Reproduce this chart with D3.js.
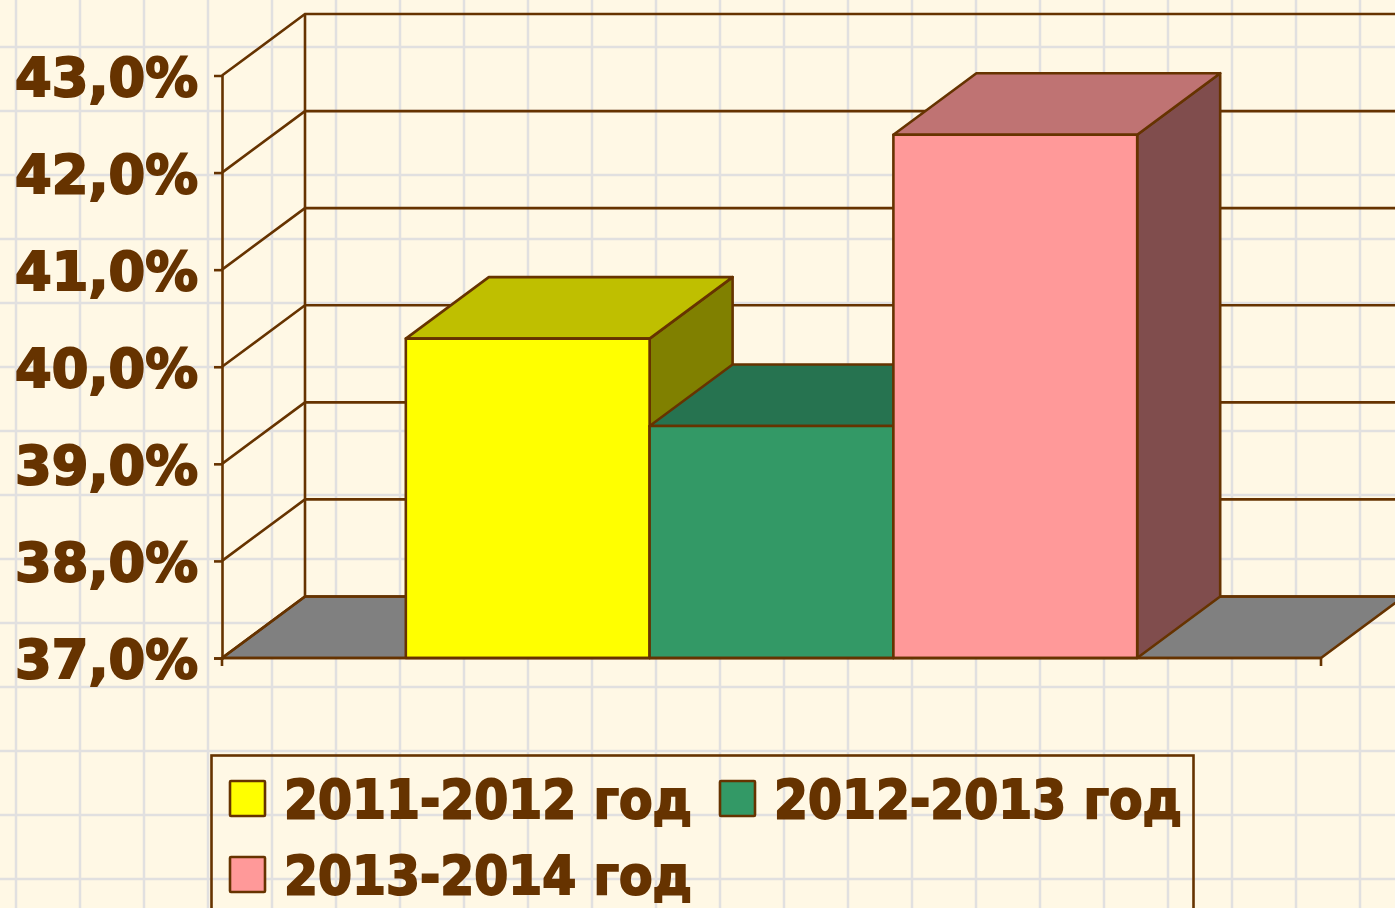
<!DOCTYPE html>
<html><head><meta charset="utf-8">
<script src="https://cdn.jsdelivr.net/npm/d3@7"></script>
<style>html,body{margin:0;padding:0;background:#fff8e5;overflow:hidden}svg{display:block}
text{font-family:"DejaVu Sans",sans-serif;font-weight:700;fill:#663300;stroke:#663300;stroke-width:2px;paint-order:stroke}</style></head>
<body><svg id="c" width="1395" height="908"></svg>
<script>
const seriesNames = ["2011-2012 год", "2012-2013 год", "2013-2014 год"];
const seriesValues = [40.29, 39.39, 42.39];
const frontColors = ["#ffff00", "#339966", "#ff9999"];
const topColors = ["#bfbf00", "#267350", "#bf7373"];
const sideColors = ["#808000", "#1a4d33", "#804d4d"];
const tickValues = [37, 38, 39, 40, 41, 42, 43];

const INK = "#663300", W = 1395, H = 908, SW = 2.6;
const svg = d3.select("#c");
const depth = {x: 83, y: -61.5};
const y = d3.scaleLinear().domain([37, 43]).range([658, 75.5]);
const x = d3.scaleBand().domain(seriesNames).range([222, 1321]).paddingInner(0).paddingOuter(0.754);
const line = d3.line();

// paper grid
const grid = svg.append("g").attr("stroke", "#e1e0e0").attr("stroke-width", 2.5);
grid.selectAll("line.v").data(d3.range(16, W, 64)).join("line").attr("class", "v")
  .attr("x1", d => d).attr("x2", d => d).attr("y1", 0).attr("y2", H);
grid.selectAll("line.h").data(d3.range(47, H, 64)).join("line").attr("class", "h")
  .attr("x1", 0).attr("x2", W).attr("y1", d => d).attr("y2", d => d);

// walls and floor
const x0 = x.range()[0], x1 = x.range()[1];
const walls = svg.append("g").attr("fill", "none").attr("stroke", INK).attr("stroke-width", SW);
walls.append("path").attr("fill", "#808080")
  .attr("d", line([[x0, y(37)], [x0 + depth.x, y(37) + depth.y], [x1 + depth.x, y(37) + depth.y], [x1, y(37)]]) + "Z");
walls.selectAll("path.g").data(tickValues).join("path").attr("class", "g")
  .attr("d", d => line([[x0, y(d)], [x0 + depth.x, y(d) + depth.y], [W + 10, y(d) + depth.y]]));
walls.append("path").attr("d", line([[x0 + depth.x, y(43) + depth.y], [x0 + depth.x, y(37) + depth.y]]));

// bars, painted left to right
const bars = svg.append("g").attr("stroke", INK).attr("stroke-width", SW).attr("stroke-linejoin", "round");
seriesNames.forEach((n, i) => {
  const l = x(n), r = l + x.bandwidth(), t = y(seriesValues[i]), b = y(37);
  const g = bars.append("g");
  g.append("path").attr("fill", sideColors[i])
    .attr("d", line([[r, t], [r + depth.x, t + depth.y], [r + depth.x, b + depth.y], [r, b]]) + "Z");
  g.append("path").attr("fill", topColors[i])
    .attr("d", line([[l, t], [l + depth.x, t + depth.y], [r + depth.x, t + depth.y], [r, t]]) + "Z");
  g.append("rect").attr("fill", frontColors[i]).attr("x", l).attr("y", t).attr("width", r - l).attr("height", b - t);
});

// axes
const axisY = d3.axisLeft(y).tickValues(tickValues).tickSize(8).tickPadding(0)
  .tickFormat(d => d3.format(".1f")(d).replace(".", ",") + "%");
const gy = svg.append("g").attr("transform", `translate(${x0},0)`).call(axisY);
gy.selectAll("path.domain").attr("stroke", INK).attr("stroke-width", SW);
gy.selectAll(".tick line").attr("stroke", INK).attr("stroke-width", SW)
  .attr("display", d => d === 43 ? "none" : null);
gy.selectAll(".tick text").attr("font-size", 54).attr("font-family", null).attr("text-anchor", "start")
  .attr("x", 15 - x0).attr("dy", 19.5).attr("textLength", 183).attr("lengthAdjust", "spacingAndGlyphs");

const axisX = svg.append("g").attr("stroke", INK).attr("stroke-width", SW);
axisX.selectAll("line").data([x0, x1]).join("line")
  .attr("x1", d => d).attr("x2", d => d).attr("y1", y(37)).attr("y2", y(37) + 8);
axisX.append("line").attr("x1", x0).attr("x2", x1).attr("y1", y(37)).attr("y2", y(37));

// legend
const lg = svg.append("g");
lg.append("rect").attr("x", 211.5).attr("y", 755.5).attr("width", 982).attr("height", 200)
  .attr("fill", "none").attr("stroke", INK).attr("stroke-width", SW);
const cols = [230, 720], rows = [781, 857];
seriesNames.forEach((n, i) => {
  const gx = cols[i % 2], gyy = rows[Math.floor(i / 2)];
  lg.append("rect").attr("x", gx).attr("y", gyy).attr("width", 35).attr("height", 35)
    .attr("rx", 1).attr("fill", frontColors[i]).attr("stroke", INK).attr("stroke-width", SW);
  lg.append("text").attr("x", gx + 54).attr("y", gyy + 36.5).attr("font-size", 54)
    .attr("textLength", 408).attr("lengthAdjust", "spacingAndGlyphs").text(n);
});
</script></body></html>
